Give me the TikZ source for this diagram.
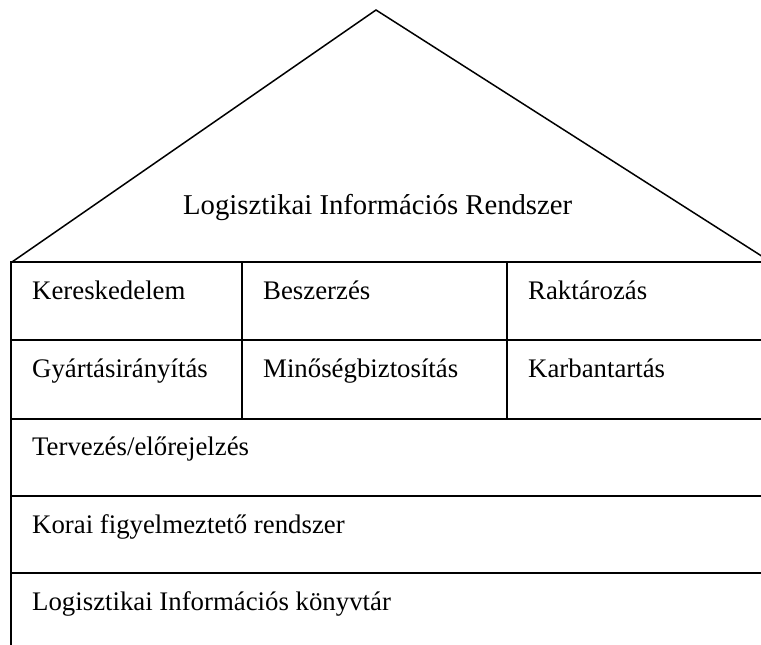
\documentclass[tikz,border=0pt]{standalone}
\usepackage{fontspec}
\setmainfont{Liberation Serif}
\begin{document}
\begin{tikzpicture}[x=1pt,y=-1pt,
  wall/.style={line width=2pt,black},
  roofline/.style={line width=1.5pt,black,line join=miter},
  label/.style={anchor=base west,inner sep=0pt,font=\fontsize{26.8}{31}\selectfont},
  titlelabel/.style={anchor=base west,inner sep=0pt,font=\fontsize{28.7}{33}\selectfont}]
\useasboundingbox (0,0) rectangle (761,645);
\clip (0,0) rectangle (761,645);
% roof
\coordinate (roofL) at (12,262);
\coordinate (apex) at (376,10);
\coordinate (roofR) at (771,262);
\draw[roofline] (roofL) -- (apex) -- (roofR);
\node[titlelabel] (title) at (183,214) {Logisztikai Információs Rendszer};
% walls and floors
\draw[wall] (11,262) -- (11,650);
\foreach \y in {262,340,419,496,573}
  \draw[wall] (10,\y) -- (780,\y);
\draw[wall] (241.5,262) -- (241.5,419);
\draw[wall] (506.5,262) -- (506.5,419);
% module labels
\node[label] (ker) at (32,299) {Kereskedelem};
\node[label] (besz) at (263,299) {Beszerzés};
\node[label] (rakt) at (528,299) {Raktározás};
\node[label] (gyart) at (32,377) {Gyártásirányítás};
\node[label] (min) at (263,377) {Minőségbiztosítás};
\node[label] (karb) at (528,377) {Karbantartás};
\node[label] (terv) at (32,455) {Tervezés/előrejelzés};
\node[label] (korai) at (32,533) {Korai figyelmeztető rendszer};
\node[label] (konyv) at (32,610) {Logisztikai Információs könyvtár};
\end{tikzpicture}
\end{document}
